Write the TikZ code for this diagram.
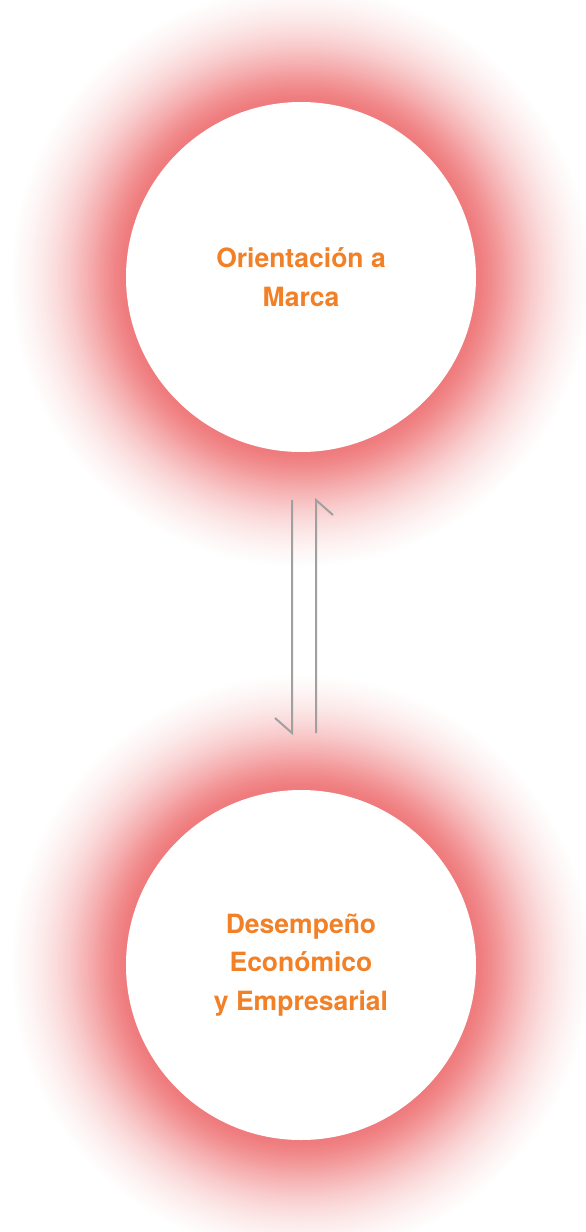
\documentclass[tikz,border=0pt]{standalone}
\usepackage{fontspec}
\setmainfont{TeX Gyre Heros}
\definecolor{glowcoral}{RGB}{239,122,124}
\definecolor{txtorange}{RGB}{241,128,38}
\definecolor{arrowgray}{RGB}{160,160,160}
\tikzset{
  bubble/.style={circle, fill=white, minimum size=350pt, inner sep=0pt,
    font=\bfseries\fontsize{26.5}{38.5}\selectfont, text=txtorange, align=center},
  harp/.style={draw=arrowgray, line width=2pt, line join=miter, line cap=butt}
}
\newcommand{\drawglow}[1]{%
  \foreach \d in {120,118,...,0}{%
    \pgfmathsetmacro\p{max(0,100*(exp(-(\d/62)^1.5)-0.08*(\d/120)^2))}%
    \fill[glowcoral!\p!white] #1 circle ({175+\d});
  }}
\begin{document}
\begin{tikzpicture}[x=1pt,y=-1pt]
\useasboundingbox (0,0) rectangle (586,1232);
\fill[white] (0,0) rectangle (586,1232);
\drawglow{(301,277)}
\drawglow{(301,965)}
\node[bubble] (top) at (301,277) {Orientación a\\Marca};
\node[bubble] (bot) at (301,965) {Desempeño\\Económico\\y Empresarial};
\coordinate (d1) at (292,500);
\coordinate (d2) at (292,733);
\coordinate (d3) at (275,718);
\coordinate (u1) at (316,733);
\coordinate (u2) at (316,500);
\coordinate (u3) at (333,515);
\draw[harp] (d1) -- (d2) -- (d3);
\draw[harp] (u1) -- (u2) -- (u3);
\end{tikzpicture}
\end{document}
